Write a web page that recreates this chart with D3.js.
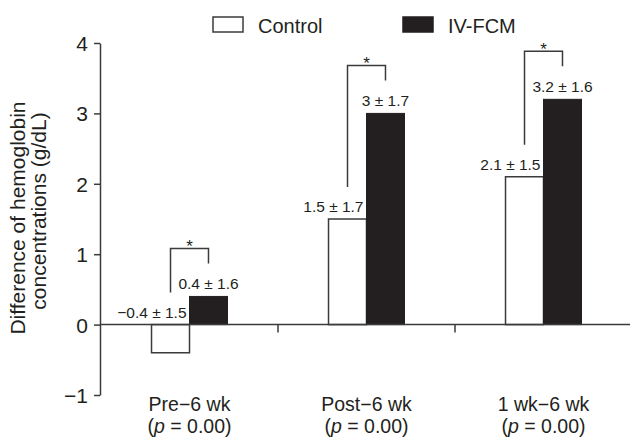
<!DOCTYPE html>
<html>
<head>
<meta charset="utf-8">
<script src="https://cdn.jsdelivr.net/npm/d3@7"></script>
<style>
  body { margin: 0; background: #fff; }
  text { font-family: "Liberation Sans", Arial, Helvetica, sans-serif; fill: #231f20; }
</style>
</head>
<body>
<div id="root"></div>
<script>
const width = 630;
const height = 438;

// Data
const categories = ['Pre\u22126 wk', 'Post\u22126 wk', '1 wk\u22126 wk'];
const seriesNames = ['Control', 'IV-FCM'];
const controlMeans = [-0.4, 1.5, 2.1];
const controlSD = [1.5, 1.7, 1.5];
const fcmMeans = [0.4, 3, 3.2];
const fcmSD = [1.6, 1.7, 1.6];
const pValues = ['0.00', '0.00', '0.00'];
const yTicks = [-1, 0, 1, 2, 3, 4];

const ink = '#231f20';
const lineCol = '#3b3b3b';

const chart = d3.select('#root')
  .append('svg:svg')
  .attr('width', width)
  .attr('height', height);

// Scales
const x = d3.scaleBand().domain(categories).range([101, 632]);
const x1 = d3.scaleBand().domain(seriesNames).range([0, x.bandwidth()]).paddingOuter(1.33);
const y = d3.scaleLinear().domain([-1, 4]).range([395, 43]);
const bw = x1.bandwidth();

const rows = categories.map((c, i) => ({
  cat: c,
  control: controlMeans[i],
  controlSD: controlSD[i],
  fcm: fcmMeans[i],
  fcmSD: fcmSD[i],
  p: pValues[i]
}));

// Y axis
const yAxis = chart.append('g')
  .attr('transform', 'translate(100,0)')
  .call(d3.axisLeft(y).tickValues(yTicks).tickFormat(d3.format('d'))
    .tickSize(6).tickSizeOuter(0).tickPadding(6));
yAxis.select('.domain').attr('stroke', lineCol).attr('stroke-width', 1.5);
yAxis.selectAll('.tick line').attr('stroke', lineCol).attr('stroke-width', 1.5);
yAxis.selectAll('.tick text')
  .style('font-family', '"Liberation Sans", Arial, sans-serif')
  .style('font-size', '21px')
  .attr('fill', ink)
  .attr('dy', '0.36em');

// Y title
const yTitle = chart.append('g').attr('class', 'ytitle');
[['Difference of hemoglobin', 25, 218], ['concentrations (g/dL)', 46, 211]].forEach(([t, tx, ty]) => {
  yTitle.append('text')
    .attr('transform', `translate(${tx},${ty}) rotate(-90)`)
    .attr('text-anchor', 'middle')
    .style('font-size', '21px')
    .text(t);
});

// Bars
const groups = chart.append('g').selectAll('.grp')
  .data(rows)
  .enter()
    .append('g')
    .attr('transform', d => `translate(${x(d.cat)},0)`);

groups.append('rect')
  .attr('x', x1('Control'))
  .attr('y', d => y(Math.max(0, d.control)))
  .attr('width', bw)
  .attr('height', d => Math.abs(y(d.control) - y(0)))
  .attr('fill', '#fff')
  .attr('stroke', lineCol)
  .attr('stroke-width', 1.5);

groups.append('rect')
  .attr('x', x1('IV-FCM'))
  .attr('y', d => y(Math.max(0, d.fcm)))
  .attr('width', bw)
  .attr('height', d => Math.abs(y(d.fcm) - y(0)))
  .attr('fill', ink)
  .attr('stroke', ink)
  .attr('stroke-width', 1);

// Value labels
groups.append('text')
  .attr('x', x1('Control') + bw - 3)
  .attr('y', d => y(Math.max(0, d.control)) - 7)
  .attr('text-anchor', 'end')
  .style('font-size', '15.5px')
  .text(d => `${d.control < 0 ? '\u2212' + Math.abs(d.control) : d.control} \u00b1 ${d.controlSD}`);

groups.append('text')
  .attr('x', x1('IV-FCM') + bw / 2)
  .attr('y', d => y(d.fcm) - 7)
  .attr('text-anchor', 'middle')
  .style('font-size', '15.5px')
  .text(d => `${d.fcm} \u00b1 ${d.fcmSD}`);

// Significance brackets
const cx0 = x1('Control') + bw / 2;
const cx1 = x1('IV-FCM') + bw / 2;
groups.append('path')
  .attr('d', d => {
    const top = y(d.fcm) - 48;
    const lb = y(Math.max(0, d.control)) - 32;
    const rb = y(d.fcm) - 33;
    return `M${cx0},${lb}V${top}H${cx1}V${rb}`;
  })
  .attr('fill', 'none')
  .attr('stroke', lineCol)
  .attr('stroke-width', 1.5);

groups.append('text')
  .attr('x', (cx0 + cx1) / 2)
  .attr('y', d => y(d.fcm) - 48 + 4)
  .attr('text-anchor', 'middle')
  .style('font-size', '17px')
  .text('*');

// X axis (zero line)
chart.append('line')
  .attr('x1', 100).attr('x2', width)
  .attr('y1', y(0)).attr('y2', y(0))
  .attr('stroke', lineCol).attr('stroke-width', 1.5);

chart.append('g').selectAll('line')
  .data(categories.slice(1))
  .enter()
    .append('line')
    .attr('x1', d => x(d)).attr('x2', d => x(d))
    .attr('y1', y(0)).attr('y2', y(0) + 8)
    .attr('stroke', lineCol).attr('stroke-width', 1.5);

// Category labels
const catLabels = chart.append('g').selectAll('.cat')
  .data(rows)
  .enter()
    .append('g');

catLabels.append('text')
  .attr('x', d => x(d.cat) + x.bandwidth() / 2)
  .attr('y', 410.5)
  .attr('text-anchor', 'middle')
  .style('font-size', '19.5px')
  .text(d => d.cat);

const pLine = catLabels.append('text')
  .attr('x', d => x(d.cat) + x.bandwidth() / 2)
  .attr('y', 432.5)
  .attr('text-anchor', 'middle')
  .style('font-size', '19.5px');
pLine.append('tspan').text('(');
pLine.append('tspan').style('font-style', 'italic').text('p');
pLine.append('tspan').text(d => ` = ${d.p})`);

// Legend
const legend = chart.append('g');
const legendX = [213, 403];
seriesNames.forEach((s, i) => {
  legend.append('rect')
    .attr('x', legendX[i]).attr('y', 17)
    .attr('width', 30).attr('height', 15)
    .attr('fill', i === 0 ? '#fff' : ink)
    .attr('stroke', i === 0 ? lineCol : ink)
    .attr('stroke-width', 1.5);
  legend.append('text')
    .attr('x', legendX[i] + 45).attr('y', 33)
    .style('font-size', '20px')
    .text(s);
});
</script>
</body>
</html>
